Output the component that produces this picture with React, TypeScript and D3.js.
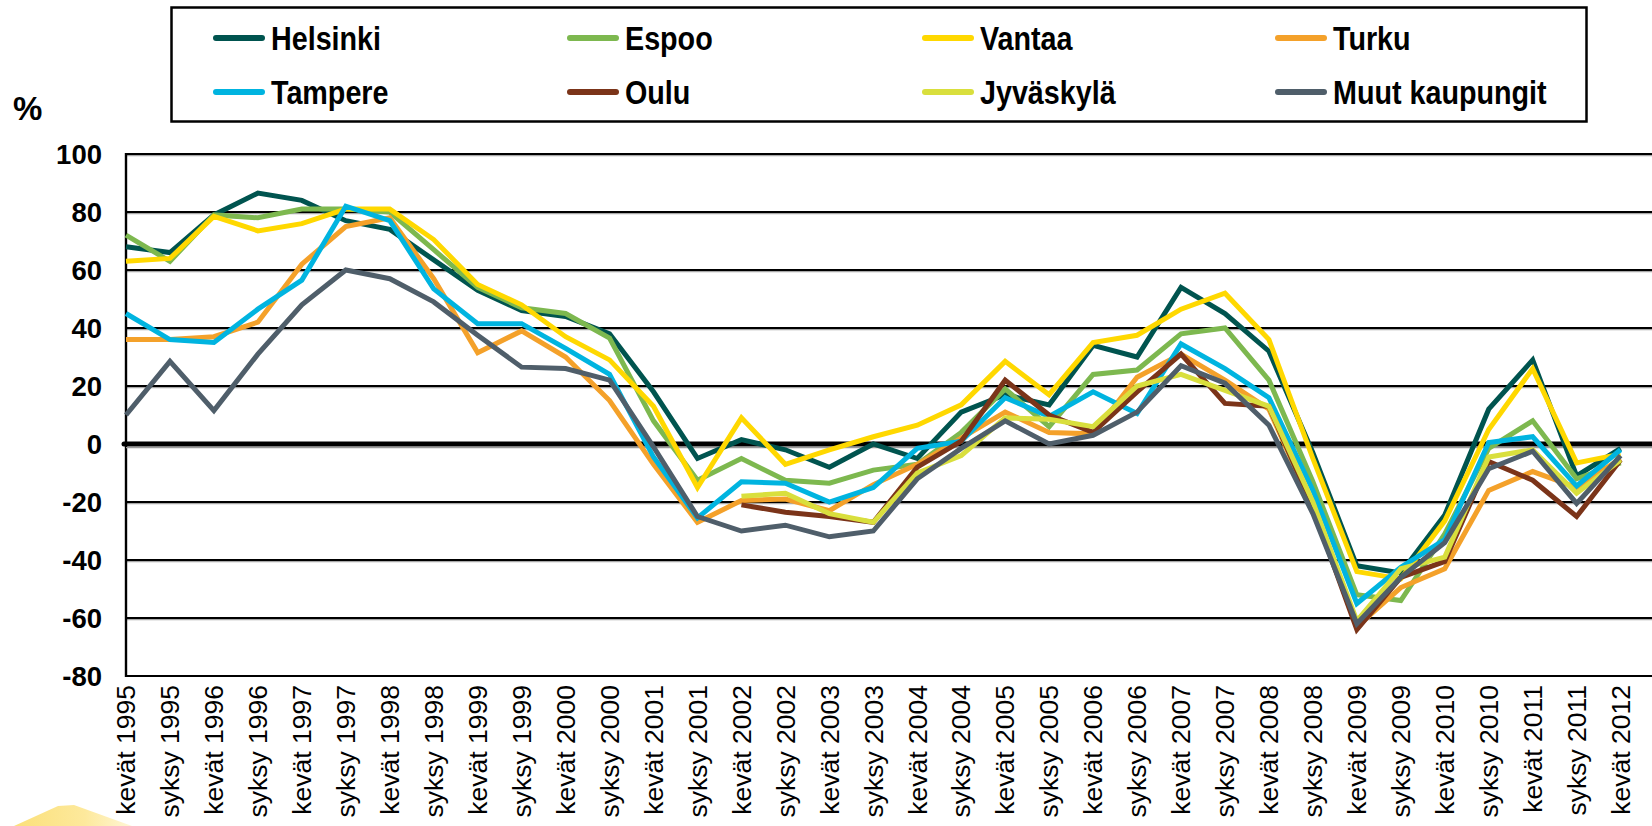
import React from "react";
import * as d3 from "d3";

const periods = [
  "kevät 1995", "syksy 1995", "kevät 1996", "syksy 1996", "kevät 1997", "syksy 1997",
  "kevät 1998", "syksy 1998", "kevät 1999", "syksy 1999", "kevät 2000", "syksy 2000",
  "kevät 2001", "syksy 2001", "kevät 2002", "syksy 2002", "kevät 2003", "syksy 2003",
  "kevät 2004", "syksy 2004", "kevät 2005", "syksy 2005", "kevät 2006", "syksy 2006",
  "kevät 2007", "syksy 2007", "kevät 2008", "syksy 2008", "kevät 2009", "syksy 2009",
  "kevät 2010", "syksy 2010", "kevät 2011", "syksy 2011", "kevät 2012",
];

const yTicks = [100, 80, 60, 40, 20, 0, -20, -40, -60, -80];

const helsinki = [68, 66, 79, 86.5, 84, 77, 74, 63.5, 53, 46, 44, 38, 18, -5, 1.5, -2, -8, 0, -5, 11, 17, 13.5, 34, 30, 54, 45, 32, -3, -42, -44.5, -24.5, 12, 29, -11, -1.5];
const espoo = [72, 63, 79, 78, 81, 81, 80, 67, 54, 47, 45, 36.5, 8, -12.5, -5, -12.5, -13.5, -9, -7, 4, 19, 6, 24, 25.5, 38, 40, 22, -13, -52, -54, -31, -1.5, 8, -12, -6.5];
const vantaa = [63, 64, 78.5, 73.5, 76, 81, 81, 70.5, 55, 48, 37, 29, 13, -15, 9, -7, -2, 2.5, 6.5, 13.5, 28.5, 17, 35, 37.5, 46.5, 52, 36, -5, -44, -46.5, -26.5, 5, 26, -6.5, -3.5];
const turku = [36, 36, 37, 42, 62, 75, 78, 57, 31.5, 39, 30, 15, -7, -27, -19.5, -19, -23, -14, -7, 2, 11, 4, 3.5, 23, 31, 22, 12, -22, -63, -49.5, -43, -16, -9.5, -15, -5];
const tampere = [45, 36, 35, 46.5, 56.5, 82, 77, 53.5, 41.5, 41.5, 33, 24, -4.5, -25.5, -13, -13.5, -20, -15, -1.5, 1, 16, 9.5, 18, 10.5, 34.5, 26, 16, -16, -55, -42.5, -33, 0.5, 2.5, -14.5, -2];
const oulu = [null, null, null, null, null, null, null, null, null, null, null, null, null, null, -21, -23.5, -25, -27, -8, 1, 22, 10, 4, 18, 31, 14, 13, -22, -64, -46, -40.5, -6, -12.5, -25, -5.5];
const jyvaskyla = [null, null, null, null, null, null, null, null, null, null, null, null, null, null, -18, -17, -24, -27, -10, -4, 9, 8.5, 6, 20, 24, 18.5, 13, -20, -61, -43, -39, -4.5, -2, -17, -5.5];
const muut = [10, 28.5, 11.5, 31, 48, 60, 57, 49, 37.5, 26.5, 26, 22, -1, -25, -30, -28, -32, -30, -12, -1.5, 8, 0, 3, 11, 27, 21, 6.5, -24, -62, -46, -34, -8.5, -2.5, -20.5, -4];

const seriesNames = ["Helsinki", "Espoo", "Vantaa", "Turku", "Tampere", "Oulu", "Jyväskylä", "Muut kaupungit"];
const seriesColors = ["#00544f", "#7db84f", "#ffd800", "#f4a12a", "#00b4e0", "#7b3419", "#d9df3d", "#4f5e6a"];
const seriesValues: (number | null)[][] = [helsinki, espoo, vantaa, turku, tampere, oulu, jyvaskyla, muut];

const W = 1652;
const H = 826;
const plotLeft = 126;
const plotRight = W;
const plotTop = 154;
const plotBottom = 676;
const lastX = 1620.6;

const FONT = "'Liberation Sans', Arial, Helvetica, sans-serif";

export default function App() {
  const x = d3.scalePoint<string>().domain(periods).range([plotLeft, lastX]).padding(0);
  const y = d3.scaleLinear().domain([-80, 100]).range([plotBottom, plotTop]);

  const line = d3
    .line<number | null>()
    .defined((d) => d !== null)
    .x((_, i) => x(periods[i]) as number)
    .y((d) => y(d as number));

  const legendCols = [213, 567, 922, 1275];
  const legendRows = [38, 92];

  return (
    <div>
      <style>{`body{margin:0;background:#fff}`}</style>
      <svg width={W} height={H} viewBox={`0 0 ${W} ${H}`} style={{ display: "block" }}>
        <defs>
          <linearGradient id="blob" x1="0" y1="0" x2="1" y2="0">
            <stop offset="0" stopColor="#fbe07a" />
            <stop offset="0.6" stopColor="#fde99c" />
            <stop offset="1" stopColor="#fff6d6" />
          </linearGradient>
        </defs>
        <rect x={0} y={0} width={W} height={H} fill="#fff" />

        {/* decorative fragment bottom-left */}
        <path d="M14,826 L58,806 L74,805 L132,826 Z" fill="url(#blob)" />

        {/* gridlines */}
        {yTicks
          .filter((t) => t !== 0 && t !== -80)
          .map((t) => (
            <g key={`g${t}`}>
              <line x1={plotLeft} x2={plotRight} y1={y(t) + 1.6} y2={y(t) + 1.6} stroke="#a8a8a8" strokeWidth={1.2} />
              <line x1={plotLeft} x2={plotRight} y1={y(t)} y2={y(t)} stroke="#000" strokeWidth={1.8} />
            </g>
          ))}

        {/* axes */}
        <line x1={plotLeft} x2={plotRight} y1={plotBottom} y2={plotBottom} stroke="#000" strokeWidth={2.2} />
        <line x1={plotLeft} x2={plotLeft} y1={plotTop - 1} y2={plotBottom + 1} stroke="#000" strokeWidth={2.4} />

        {/* y tick labels */}
        {yTicks.map((t) => (
          <text
            key={`yl${t}`}
            x={102}
            y={y(t)}
            dy="0.36em"
            textAnchor="end"
            fontFamily={FONT}
            fontWeight="bold"
            fontSize={27.5}
            fill="#000"
          >
            {t}
          </text>
        ))}

        {/* % label */}
        <text x={13} y={120} fontFamily={FONT} fontWeight="bold" fontSize={33} fill="#000">
          %
        </text>

        {/* x tick labels */}
        {periods.map((p) => (
          <text
            key={p}
            transform={`translate(${x(p)},685) rotate(-90)`}
            dy="0.35em"
            textAnchor="end"
            fontFamily={FONT}
            fontSize={26.5}
            fill="#000"
          >
            {p}
          </text>
        ))}

        {/* zero line */}
        <line x1={plotLeft} x2={plotRight} y1={y(0) + 3.6} y2={y(0) + 3.6} stroke="#9a9a9a" strokeWidth={1.4} />
        <line x1={plotLeft - 2} x2={plotRight} y1={y(0)} y2={y(0)} stroke="#000" strokeWidth={5} strokeLinecap="round" />

        {/* series */}
        {seriesValues.map((vals, si) => (
          <path
            key={seriesNames[si]}
            d={line(vals) || ""}
            fill="none"
            stroke={seriesColors[si]}
            strokeWidth={5}
            strokeLinejoin="miter"
            strokeMiterlimit={3}
          />
        ))}

        {/* legend */}
        <rect x={171.5} y={7.5} width={1415} height={114} fill="#fff" stroke="#000" strokeWidth={2.5} />
        {seriesNames.map((name, si) => {
          const cx = legendCols[si % 4];
          const cy = legendRows[Math.floor(si / 4)];
          return (
            <g key={`lg${name}`}>
              <line x1={cx + 3} x2={cx + 49} y1={cy} y2={cy} stroke={seriesColors[si]} strokeWidth={6} strokeLinecap="round" />
              <g transform={`translate(${cx + 58},${cy + 12}) scale(0.87,1)`}>
                <text x={0} y={0} fontFamily={FONT} fontWeight="bold" fontSize={33} fill="#000">
                  {name}
                </text>
              </g>
            </g>
          );
        })}
      </svg>
    </div>
  );
}
